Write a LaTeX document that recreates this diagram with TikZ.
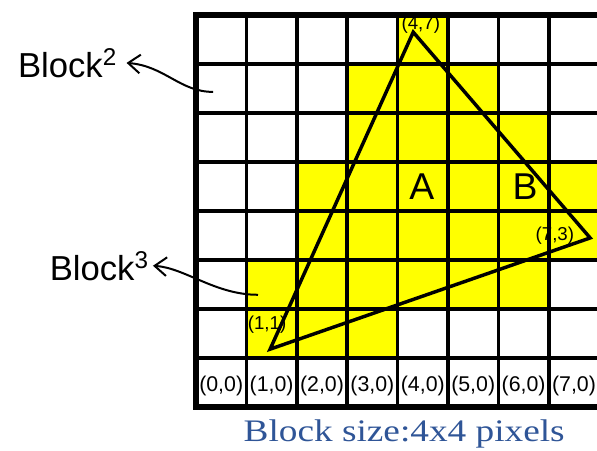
\documentclass[tikz,border=0pt]{standalone}
\usepackage{fontspec}
\setmainfont{Liberation Sans}
\newfontfamily\capfont{Liberation Serif}
\usepackage{graphicx}
\usetikzlibrary{arrows.meta}
\definecolor{cellYellow}{RGB}{255,255,0}
\definecolor{capBlue}{RGB}{47,85,151}
\tikzset{
    celllbl/.style={font=\fontsize{16}{18}\selectfont, inner sep=0pt},
    vertlbl/.style={font=\fontsize{14}{16}\selectfont, inner sep=0pt},
    blocklbl/.style={anchor=base west, font=\fontsize{26}{30}\selectfont, inner sep=2pt},
    blockarrow/.style={-{Straight Barb[length=9pt,width=14pt]}, line width=1.5pt}
}

\begin{document}
\begin{tikzpicture}[x=37.8pt, y=36.75pt]
    \useasboundingbox (-3.889,-0.898) rectangle (7.956,8.306);
    % yellow blocks
    \fill[cellYellow] (4,7) rectangle (5,8);
    \fill[cellYellow] (3,5) rectangle (6,7);
    \fill[cellYellow] (6,5) rectangle (7,6);
    \fill[cellYellow] (2,3) rectangle (8,5);
    \fill[cellYellow] (1,2) rectangle (7,3);
    \fill[cellYellow] (1,1) rectangle (4,2);
    % grid
    \draw[line width=2.6pt, xstep=37.8pt, ystep=36.75pt] (0,0) grid (8,8);
    \draw[line width=4pt, line cap=rect, line join=miter] (8,8) -- (0,8) -- (0,0) -- (8,0);
    % bottom row
    \node[celllbl] (c0) at (0.5,0.42) {(0,0)};
    \node[celllbl] (c1) at (1.5,0.42) {(1,0)};
    \node[celllbl] (c2) at (2.5,0.42) {(2,0)};
    \node[celllbl] (c3) at (3.5,0.42) {(3,0)};
    \node[celllbl] (c4) at (4.5,0.42) {(4,0)};
    \node[celllbl] (c5) at (5.5,0.42) {(5,0)};
    \node[celllbl] (c6) at (6.5,0.42) {(6,0)};
    \node[celllbl] (c7) at (7.5,0.42) {(7,0)};
    % triangle
    \node[vertlbl] (v47) at (4.46,7.80) {(4,7)};
    \node[vertlbl] (v73) at (7.12,3.49) {(7,3)};
    \node[vertlbl] (v11) at (1.41,1.67) {(1,1)};
    \coordinate (p47) at (4.31,7.65);
    \coordinate (p73) at (7.82,3.45);
    \coordinate (p11) at (1.47,1.18);
    \draw[line width=2.6pt, line join=miter] (p11) -- (p47) -- (p73) -- cycle;
    \node[font=\fontsize{28}{32}\selectfont] (lblA) at (4.48,4.49) {A};
    \node[font=\fontsize{28}{32}\selectfont] (lblB) at (6.53,4.49) {B};
    % blocks
    \node[blocklbl] (blk2) at (-3.59,6.73) {Block\textsuperscript{2}};
    \node[blocklbl] (blk3) at (-2.96,2.59) {Block\textsuperscript{3}};
    \coordinate (b2) at (0.34,6.43);
    \coordinate (b3) at (1.23,2.29);
    \draw[blockarrow] (b2) .. controls (-0.32,6.43) and (-0.62,6.96) .. ([xshift=5pt]blk2.east);
    \draw[blockarrow] (b3) .. controls (0.38,2.29) and (-0.22,2.84) .. ([xshift=1pt]blk3.east);
    \node[font=\capfont\fontsize{23.5}{26}\selectfont, text=capBlue, anchor=base] (cap) at (4.13,-0.71) {\scalebox{1.19}[1]{Block size:4x4 pixels}};
\end{tikzpicture}
\end{document}
